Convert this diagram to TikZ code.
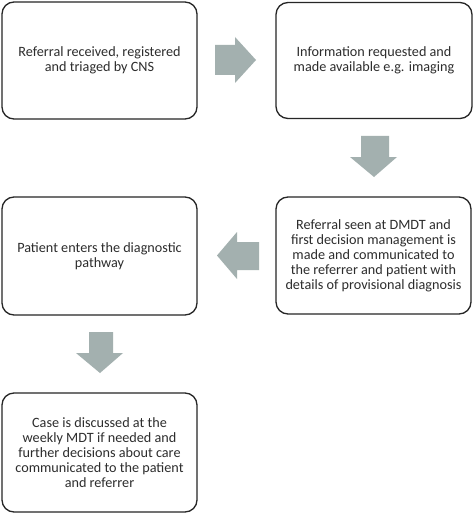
\documentclass[tikz,border=0pt]{standalone}
\usepackage{fontspec}
\setmainfont{Carlito}
\definecolor{arrowgray}{RGB}{163,176,175}
\definecolor{textgray}{RGB}{45,45,45}
\begin{document}
\begin{tikzpicture}[x=1pt,y=-1pt,
  box/.style={draw=black!85, line width=1.3pt, rounded corners=12pt, fill=white,
    align=center, text=textgray, font=\fontsize{14.2}{15}\selectfont,
    inner sep=0pt, minimum width=195pt, minimum height=117pt},
  blockarrow/.style={fill=arrowgray, draw=none}]
\useasboundingbox (0,0) rectangle (474,513);
\fill[white] (0,0) rectangle (474,513);
\node[box] (b1) at (99.5,60.5) {Referral received, registered\\and triaged by CNS};
\node[box, minimum width=196pt, minimum height=116pt] (b2) at (374,60.5) {Information requested and\\made available e.g. imaging};
\node[box] (b3) at (373.5,255.5) {Referral seen at DMDT and\\first decision management is\\made and communicated to\\the referrer and patient with\\details of provisional diagnosis};
\node[box, minimum height=118pt] (b4) at (99.5,256) {Patient enters the diagnostic\\pathway};
\node[box, minimum height=119pt] (b5) at (99.5,452.5) {Case is discussed at the\\weekly MDT if needed and\\further decisions about care\\communicated to the patient\\and referrer};
% right arrow b1 -> b2
\fill[blockarrow] (215,45) -- (235,45) -- (235,37) -- (256,60) -- (235,83) -- (235,75) -- (215,75) -- cycle;
% down arrow b2 -> b3
\fill[blockarrow] (361,136) -- (389,136) -- (389,157) -- (397,157) -- (374,177) -- (350,157) -- (361,157) -- cycle;
% left arrow b3 -> b4
\fill[blockarrow] (259,242) -- (237,242) -- (237,232) -- (217,255.5) -- (237,279) -- (237,270) -- (259,270) -- cycle;
% down arrow b4 -> b5
\fill[blockarrow] (89,332) -- (113,332) -- (113,353) -- (123,353) -- (100,373) -- (76,353) -- (89,353) -- cycle;
\end{tikzpicture}
\end{document}
